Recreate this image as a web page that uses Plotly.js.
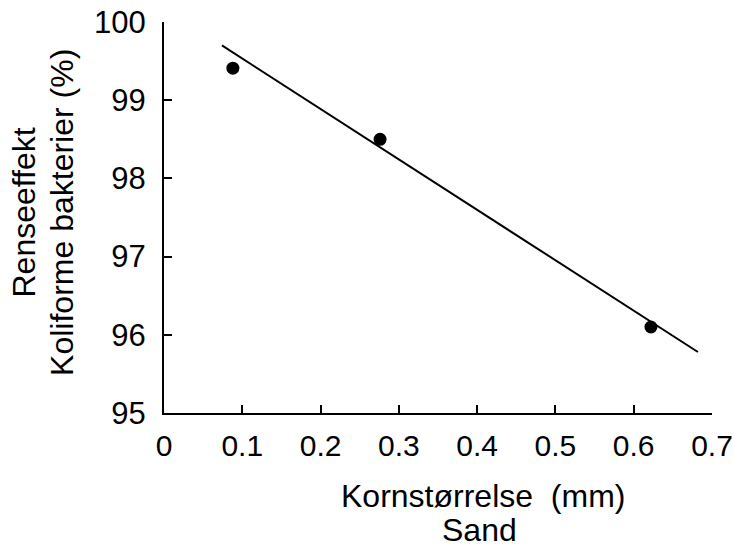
<!DOCTYPE html>
<html>
<head>
<meta charset="utf-8">
<script src="https://cdn.plot.ly/plotly-3.0.1.min.js"></script>
<style>html,body{margin:0;padding:0;background:#fff;}#chart{width:733px;height:549px;}</style>
</head>
<body>
<div id="chart"></div>
<script>
// Measured points
const grainSize = [0.088, 0.276, 0.622];
const efficiency = [99.41, 98.50, 96.10];
// Fitted line end points
const fitX = [0.074, 0.682];
const fitY = [99.70, 95.78];
// Tick labels
const xTickVals = [0, 0.1, 0.2, 0.3, 0.4, 0.5, 0.6, 0.7];
const xTickText = ["0", "0.1", "0.2", "0.3", "0.4", "0.5", "0.6", "0.7"];
const yTickVals = [95, 96, 97, 98, 99, 100];
const yTickText = ["95", "96", "97", "98", "99", "100"];

const font = "Liberation Sans, Arial, Helvetica, sans-serif";

const traces = [
  {x: fitX, y: fitY, mode: "lines", type: "scatter",
   line: {color: "#000", width: 2}, hoverinfo: "skip", showlegend: false},
  {x: grainSize, y: efficiency, mode: "markers", type: "scatter",
   marker: {color: "#000", size: 13}, showlegend: false}
];

const layout = {
  width: 733, height: 549,
  margin: {l: 164, r: 21, t: 22, b: 136},
  paper_bgcolor: "#fff", plot_bgcolor: "#fff",
  font: {family: font, color: "#000", size: 30},
  showlegend: false,
  xaxis: {
    range: [0, 0.7], tickvals: xTickVals, ticktext: xTickText,
    showgrid: false, zeroline: false, showline: true, linecolor: "#000", linewidth: 2,
    ticks: "inside", ticklen: 8, tickwidth: 2, tickcolor: "#000",
    tickfont: {family: font, size: 30, color: "#000"}, ticklabelstandoff: 5,
    ticklabeloverflow: "allow"
  },
  yaxis: {
    range: [95, 100], tickvals: yTickVals, ticktext: yTickText,
    showgrid: false, zeroline: false, showline: true, linecolor: "#000", linewidth: 2,
    ticks: "inside", ticklen: 8, tickwidth: 2, tickcolor: "#000",
    tickfont: {family: font, size: 31, color: "#000"}, ticklabelstandoff: 10,
    ticklabeloverflow: "allow"
  },
  annotations: [
    {text: "Renseeffekt", xref: "paper", yref: "paper", x: -0.256, y: 0.512,
     textangle: -90, showarrow: false, xanchor: "center", yanchor: "middle",
     font: {family: font, size: 32, color: "#000"}},
    {text: "Koliforme bakterier (%)", xref: "paper", yref: "paper", x: -0.186, y: 0.512,
     textangle: -90, showarrow: false, xanchor: "center", yanchor: "middle",
     font: {family: font, size: 32, color: "#000"}},
    {text: "Kornstørrelse\u00a0\u00a0(mm)", xref: "paper", yref: "paper", x: 0.583, y: -0.212,
     showarrow: false, xanchor: "center", yanchor: "middle",
     font: {family: font, size: 32, color: "#000"}},
    {text: "Sand", xref: "paper", yref: "paper", x: 0.575, y: -0.3,
     showarrow: false, xanchor: "center", yanchor: "middle",
     font: {family: font, size: 32, color: "#000"}}
  ]
};

Plotly.newPlot("chart", traces, layout, {displayModeBar: false, staticPlot: true});
</script>
</body>
</html>
